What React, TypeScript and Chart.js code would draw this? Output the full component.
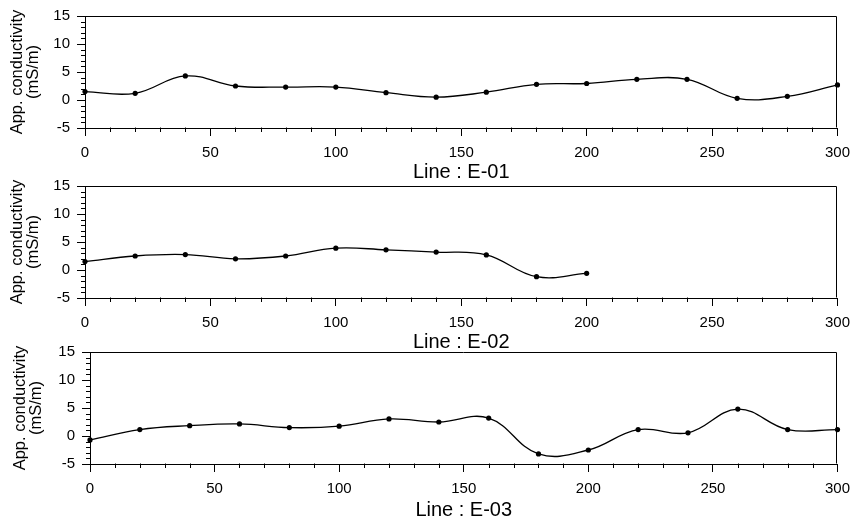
import React, { useEffect, useRef } from 'react';
import { Chart, registerables } from 'chart.js';

Chart.register(...registerables);

// ---- data ----
const DIST_E01 = [0, 20, 40, 60, 80, 100, 120, 140, 160, 180, 200, 220, 240, 260, 280, 300];
const COND_E01 = [1.5, 1.2, 4.3, 2.5, 2.3, 2.3, 1.3, 0.5, 1.4, 2.8, 2.95, 3.7, 3.7, 0.3, 0.65, 2.7];

const DIST_E02 = [0, 20, 40, 60, 80, 100, 120, 140, 160, 180, 200];
const COND_E02 = [1.5, 2.5, 2.75, 2.0, 2.5, 3.9, 3.6, 3.2, 2.7, -1.2, -0.6];

const DIST_E03 = [0, 20, 40, 60, 80, 100, 120, 140, 160, 180, 200, 220, 240, 260, 280, 300];
const COND_E03 = [-0.7, 1.15, 1.85, 2.15, 1.5, 1.75, 3.05, 2.5, 3.2, -3.2, -2.5, 1.15, 0.57, 4.8, 1.15, 1.15];

const LINE_TITLES = ['Line : E-01', 'Line : E-02', 'Line : E-03'];
const Y_TITLE = ['App. conductivity', '(mS/m)'];

const X_MIN = 0;
const X_MAX = 300;
const X_MAJOR = 50;
const X_MINOR = 10;
const Y_MIN = -5;
const Y_MAX = 15;
const Y_MAJOR = 5;
const Y_MINOR = 1;

const FONT = '"Liberation Sans", Arial, Helvetica, sans-serif';

const isMajor = (v: number, step: number) => Math.abs(v / step - Math.round(v / step)) < 1e-6;

const frameAndMinorTicks = {
  id: 'frameAndMinorTicks',
  afterDraw(chart: any) {
    const { ctx, chartArea } = chart;
    const xs = chart.scales.x;
    const ys = chart.scales.y;
    ctx.save();
    ctx.strokeStyle = '#000';
    ctx.lineWidth = 1;
    const L = Math.round(chartArea.left) + 0.5;
    const R = Math.round(chartArea.right) - 0.5;
    const T = Math.round(chartArea.top) + 0.5;
    const B = Math.round(chartArea.bottom) - 0.5;
    ctx.beginPath();
    ctx.moveTo(L, T);
    ctx.lineTo(R, T);
    ctx.lineTo(R, B);
    ctx.stroke();
    // minor ticks
    ctx.beginPath();
    xs.ticks.forEach((t: any) => {
      if (isMajor(t.value, X_MAJOR)) return;
      const px = Math.round(xs.getPixelForValue(t.value)) + 0.5;
      ctx.moveTo(px, B);
      ctx.lineTo(px, B + 4.5);
    });
    ys.ticks.forEach((t: any) => {
      if (isMajor(t.value, Y_MAJOR)) return;
      const py = Math.round(ys.getPixelForValue(t.value)) + 0.5;
      ctx.moveTo(L, py);
      ctx.lineTo(L - 4.5, py);
    });
    ctx.stroke();
    ctx.restore();
  },
};

type PanelProps = {
  title: string;
  xs: number[];
  ys: number[];
  top: number;
  yWidth: number;
  padRight: number;
  titlePadBottom: number;
  yTitlePad: number;
};

const X_AXIS_H = 58;
const PLOT_TOP = 15;
const PLOT_H = 113;

function Panel({ title, xs, ys, top, yWidth, padRight, titlePadBottom, yTitlePad }: PanelProps) {
  const ref = useRef<HTMLCanvasElement | null>(null);
  useEffect(() => {
    if (!ref.current) return;
    const chart = new Chart(ref.current, {
      type: 'line',
      data: {
        datasets: [
          {
            data: xs.map((x, i) => ({ x, y: ys[i] })),
            borderColor: '#000',
            borderWidth: 1.3,
            tension: 0.4,
            pointRadius: 2.6,
            pointBackgroundColor: '#000',
            pointBorderWidth: 0,
            fill: false,
            clip: false as any,
          },
        ],
      },
      options: {
        animation: false,
        responsive: false,
        maintainAspectRatio: false,
        layout: { padding: { top: PLOT_TOP, right: padRight, left: 0, bottom: 0 } },
        plugins: { legend: { display: false }, tooltip: { enabled: false }, title: { display: false } },
        scales: {
          x: {
            type: 'linear',
            min: X_MIN,
            max: X_MAX,
            afterFit: (s: any) => {
              s.height = X_AXIS_H;
            },
            ticks: {
              stepSize: X_MINOR,
              autoSkip: false,
              maxRotation: 0,
              padding: 8,
              color: '#000',
              font: { family: FONT, size: 15 },
              callback: (v: any) => (isMajor(Number(v), X_MAJOR) ? String(v) : ''),
            },
            grid: {
              drawOnChartArea: false,
              drawTicks: true,
              tickLength: 8,
              tickWidth: 1,
              tickColor: (c: any) => (c.tick && isMajor(c.tick.value, X_MAJOR) ? '#000' : 'rgba(0,0,0,0)'),
            },
            border: { display: true, color: '#000', width: 1 },
            title: {
              display: true,
              text: title,
              color: '#000',
              font: { family: FONT, size: 20 },
              padding: { top: 0, bottom: titlePadBottom },
            },
          },
          y: {
            type: 'linear',
            min: Y_MIN,
            max: Y_MAX,
            afterFit: (s: any) => {
              s.width = yWidth;
            },
            ticks: {
              stepSize: Y_MINOR,
              autoSkip: false,
              padding: 7,
              color: '#000',
              font: { family: FONT, size: 15 },
              callback: (v: any) => (isMajor(Number(v), Y_MAJOR) ? String(v) : ''),
            },
            grid: {
              drawOnChartArea: false,
              drawTicks: true,
              tickLength: 8,
              tickWidth: 1,
              tickColor: (c: any) => (c.tick && isMajor(c.tick.value, Y_MAJOR) ? '#000' : 'rgba(0,0,0,0)'),
            },
            border: { display: true, color: '#000', width: 1 },
            title: {
              display: true,
              text: Y_TITLE,
              color: '#000',
              font: { family: FONT, size: 16.5, lineHeight: 0.95 },
              padding: { top: yTitlePad, bottom: 0 },
            },
          },
        },
      },
      plugins: [frameAndMinorTicks],
    });
    return () => chart.destroy();
  }, []);
  const h = PLOT_TOP + PLOT_H + X_AXIS_H;
  return (
    <canvas
      ref={ref}
      width={858}
      height={h}
      style={{ position: 'absolute', left: 0, top, width: 858, height: h }}
    />
  );
}

export default function App() {
  return (
    <div
      style={{
        position: 'absolute',
        left: 0,
        top: 0,
        width: 858,
        height: 523,
        overflow: 'hidden',
        background: '#fff',
      }}
    >
      <Panel title={LINE_TITLES[0]} xs={DIST_E01} ys={COND_E01} top={0} yWidth={85} padRight={20} titlePadBottom={2} yTitlePad={10} />
      <Panel title={LINE_TITLES[1]} xs={DIST_E02} ys={COND_E02} top={170} yWidth={85} padRight={20} titlePadBottom={2} yTitlePad={10} />
      <Panel title={LINE_TITLES[2]} xs={DIST_E03} ys={COND_E03} top={336} yWidth={90} padRight={15} titlePadBottom={0} yTitlePad={13} />
    </div>
  );
}
